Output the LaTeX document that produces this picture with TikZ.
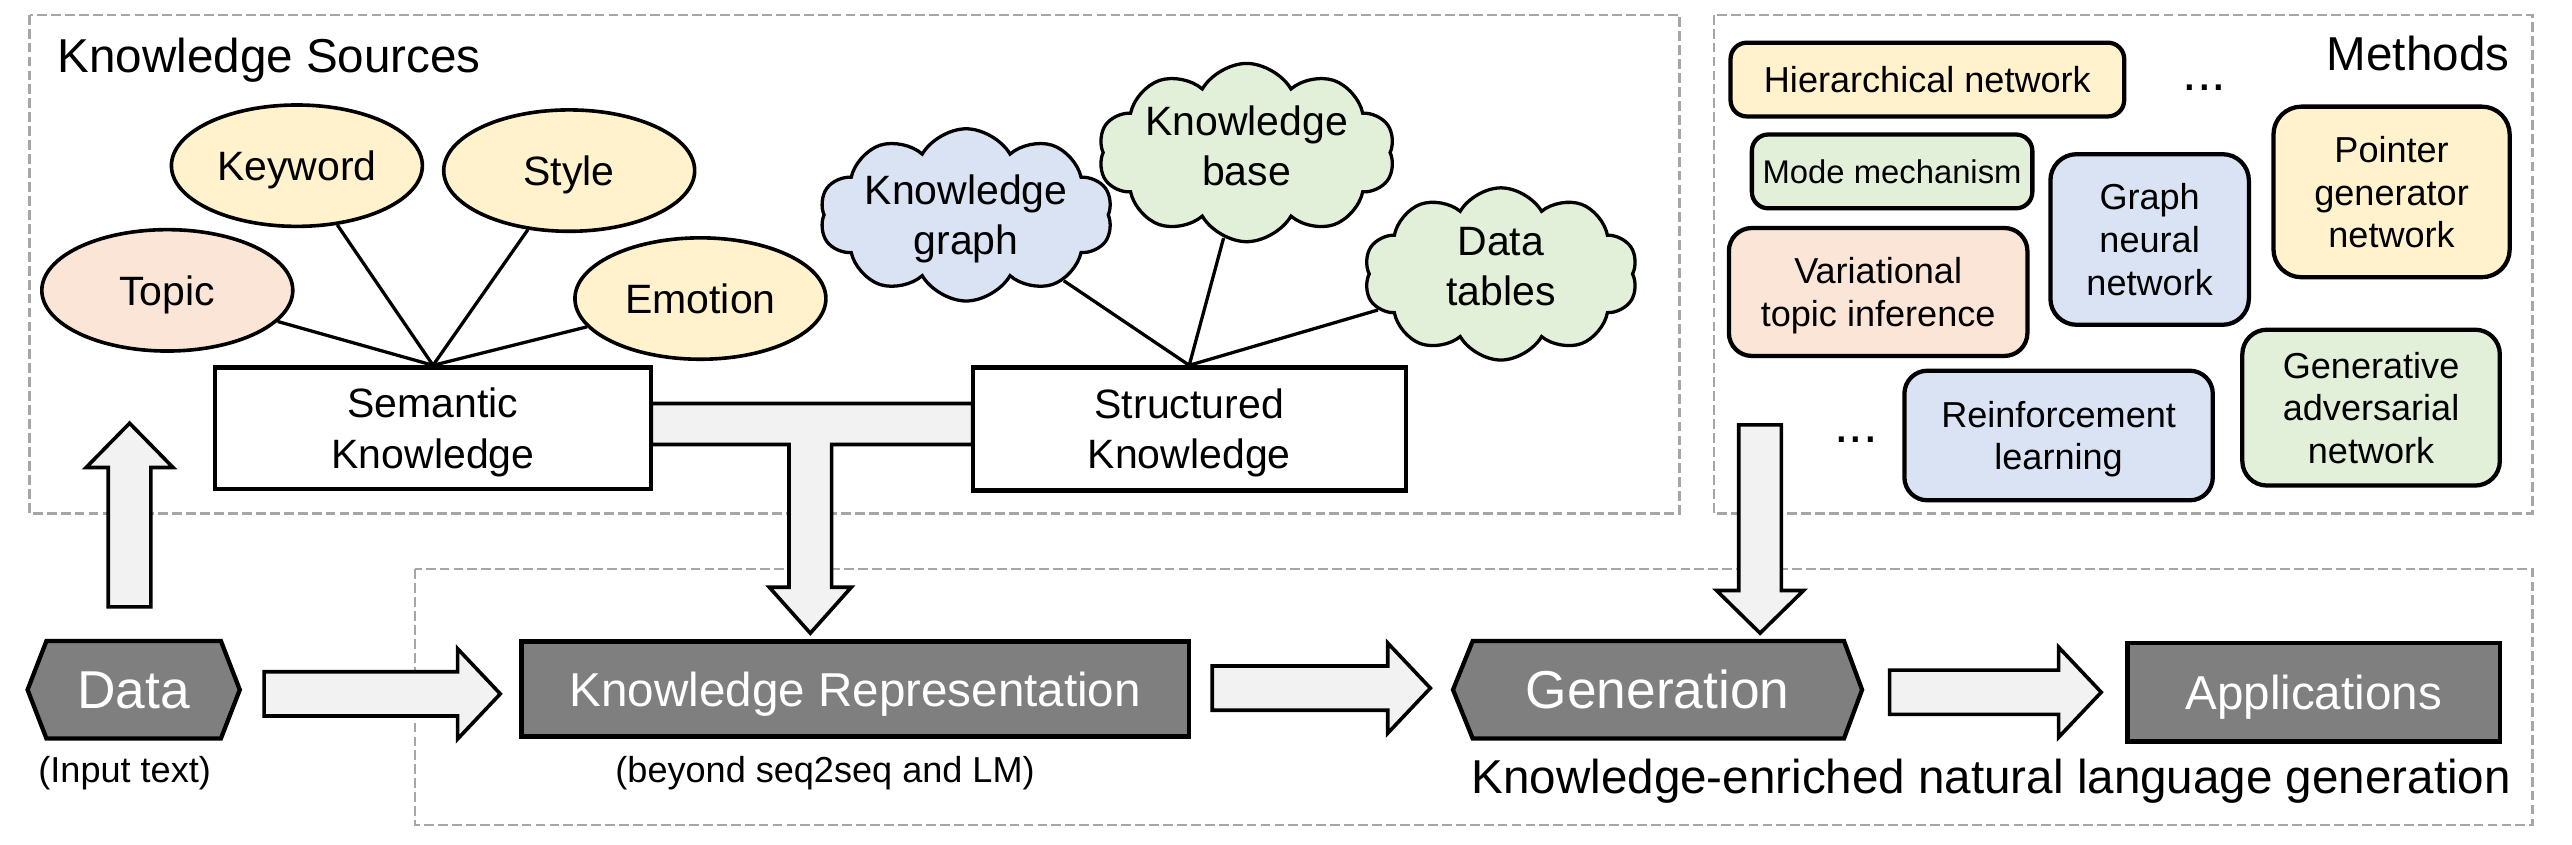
\documentclass[tikz,border=0pt]{standalone}
\usepackage{fontspec}
\setmainfont{Liberation Sans}
\usetikzlibrary{shapes.geometric,shapes.symbols,backgrounds,calc}
\definecolor{cyellow}{HTML}{FFF2CC}
\definecolor{cpeach}{HTML}{FBE5D6}
\definecolor{cgreen}{HTML}{E2F0D9}
\definecolor{cblue}{HTML}{DAE3F3}
\definecolor{boxgray}{HTML}{7F7F7F}
\definecolor{arrowgray}{HTML}{F2F2F2}
\definecolor{dashgray}{HTML}{A6A6A6}
\newcommand\fsz[2]{\fontsize{#1}{#2}\selectfont}
\tikzset{
  txt/.style={inner sep=0pt, align=center},
  ell/.style={ellipse, draw, line width=2.2pt, minimum width=153pt, minimum height=74pt, inner sep=0pt, font=\fsz{25}{30}, text depth=0pt},
  kbox/.style={rectangle, draw, line width=2.6pt, fill=white, inner sep=0pt, align=center, font=\fsz{25}{30.5}, text depth=0pt},
  cloudn/.style={cloud, draw, line width=2pt, cloud puffs=10, cloud puff arc=120, cloud ignores aspect, minimum width=167pt, minimum height=105pt, inner sep=0pt, align=center, font=\fsz{25}{30.5}, fill=cgreen, text depth=0pt},
  mbox/.style={rectangle, draw, line width=2.6pt, inner sep=0pt, align=center, font=\fsz{22}{26}, text depth=0pt},
  gbox/.style={rectangle, draw, line width=2.6pt, fill=boxgray, text=white, inner sep=0pt, font=\fsz{29}{34}, text height=20.8pt, text depth=0pt},
  hexn/.style={rectangle, inner sep=0pt, text=white, font=\fsz{32.5}{38}, text height=23.3pt, text depth=0pt},
  hexdraw/.style={draw, line width=2.6pt, fill=boxgray, line join=miter},
  barrow/.style={draw, line width=2.2pt, fill=arrowgray, line join=miter},
  dbox/.style={draw=dashgray, line width=1.5pt, dash pattern=on 6pt off 2.5pt},
  conn/.style={draw, line width=2pt},
}
\newcommand\rightblock[3]{%
  \draw[barrow] (#1,{#3-13.5}) -- ({#2-26},{#3-13.5}) -- ({#2-26},{#3-27.5}) -- (#2,#3) -- ({#2-26},{#3+27.5}) -- ({#2-26},{#3+13.5}) -- (#1,{#3+13.5}) -- cycle;}
\begin{document}
\begin{tikzpicture}[x=1pt,y=-1pt]
\useasboundingbox (0,0) rectangle (1568,515);

% ---------- nodes ----------
\node[txt, anchor=base west, font=\fsz{29}{34}] (kstitle) at (35,44) {Knowledge Sources};
\node[ell, fill=cpeach] (topic) at (102,177) {Topic};
\node[ell, fill=cyellow] (keyword) at (181,101) {Keyword};
\node[ell, fill=cyellow] (style) at (347,104) {Style};
\node[ell, fill=cyellow] (emotion) at (427,182) {Emotion};
\node[kbox, minimum width=266pt, minimum height=74pt] (sem) at (264,261) {Semantic\\Knowledge};
\node[kbox, minimum width=264pt, minimum height=75pt] (struct) at (725,261.5) {Structured\\Knowledge};
\node[cloudn, fill=cblue] (kg) at (589,131) {Knowledge\\graph};
\node[cloudn, text depth=9pt] (kb) at (760,93) {Knowledge\\base};
\node[cloudn, text depth=9pt] (dt) at (915,167) {Data\\tables};

\node[txt, anchor=base east, font=\fsz{29}{34}] (mtitle) at (1530,43) {Methods};
\node[mbox, fill=cyellow, rounded corners=10pt, minimum width=240pt, minimum height=45pt] (hier) at (1175,48.5) {Hierarchical network};
\node[txt, anchor=base, font=\fsz{32}{36}] (dotsa) at (1344,55) {...};
\node[mbox, fill=cgreen, rounded corners=10pt, minimum width=171pt, minimum height=45pt, font=\fsz{20}{24}] (mode) at (1153.5,104.5) {Mode mechanism};
\node[mbox, fill=cblue, rounded corners=16pt, minimum width=121pt, minimum height=104pt] (gnn) at (1310.5,146) {Graph\\neural\\network};
\node[mbox, fill=cyellow, rounded corners=17pt, minimum width=144pt, minimum height=104pt] (pgn) at (1458,117) {Pointer\\generator\\network};
\node[mbox, fill=cpeach, rounded corners=14pt, minimum width=182pt, minimum height=78pt] (vti) at (1145,178) {Variational\\topic inference};
\node[mbox, fill=cblue, rounded corners=14pt, minimum width=188pt, minimum height=79pt] (rl) at (1255,265.5) {Reinforcement\\learning};
\node[mbox, fill=cgreen, rounded corners=15pt, minimum width=157pt, minimum height=95pt] (gan) at (1445.5,248.5) {Generative\\adversarial\\network};
\node[txt, anchor=base, font=\fsz{32}{36}] (dotsb) at (1131.5,270) {...};

\node[hexn, minimum width=129pt, minimum height=59pt] (data) at (81.5,420.5) {Data};
\node[gbox, minimum width=407pt, minimum height=58pt] (kr) at (521.5,420) {Knowledge Representation};
\node[hexn, minimum width=249pt, minimum height=59pt] (gen) at (1010.5,420.5) {Generation};
\node[gbox, minimum width=227pt, minimum height=60pt] (app) at (1410.5,422) {Applications};

\node[txt, anchor=base, font=\fsz{22}{26}] (inp) at (76,477) {(Input text)};
\node[txt, anchor=base, font=\fsz{22}{26}] (beyond) at (503,477) {(beyond seq2seq and LM)};
\node[txt, anchor=base east, font=\fsz{29}{34}] (kenlg) at (1531,484) {Knowledge-enriched natural language generation};

% ---------- connectors ----------
\draw[conn] (sem.north) -- (topic);
\draw[conn] (sem.north) -- (keyword);
\draw[conn] (sem.north) -- (style);
\draw[conn] (sem.north) -- (emotion);
\draw[conn] (struct.north) -- (kg);
\draw[conn] (struct.north) -- (kb);
\draw[conn] (struct.north) -- (dt);

% ---------- background ----------
\begin{scope}[on background layer]
  \draw[dbox] (18,9) rectangle (1024,313);
  \draw[dbox] (1045,9) rectangle (1544,313);
  \draw[dbox] (253,347) rectangle (1544,503);
  % hexagons
  \draw[hexdraw] (data.west) -- ([xshift=11.5pt]data.north west) -- ([xshift=-11.5pt]data.north east) -- (data.east) -- ([xshift=-11.5pt]data.south east) -- ([xshift=11.5pt]data.south west) -- cycle;
  \draw[hexdraw] (gen.west) -- ([xshift=12pt]gen.north west) -- ([xshift=-11pt]gen.north east) -- (gen.east) -- ([xshift=-11pt]gen.south east) -- ([xshift=12pt]gen.south west) -- cycle;
  % T-shaped arrow from knowledge boxes down to representation
  \draw[barrow] (397,246) -- (593,246) -- (593,271) -- (507,271) -- (507,358) -- (519,358) -- (494,386) -- (469,358) -- (481,358) -- (481,271) -- (397,271) -- cycle;
  % up arrow from data
  \draw[barrow] (66,370) -- (92,370) -- (92,285) -- (105.5,285) -- (79,258) -- (52.5,285) -- (66,285) -- cycle;
  % methods down arrow
  \draw[barrow] (1060,259) -- (1086,259) -- (1086,360) -- (1099.5,360) -- (1073,386) -- (1046.5,360) -- (1060,360) -- cycle;
  % right arrows
  \rightblock{161}{305}{423}
  \rightblock{739}{872}{419.5}
  \rightblock{1152}{1281}{422}
\end{scope}
\end{tikzpicture}
\end{document}
